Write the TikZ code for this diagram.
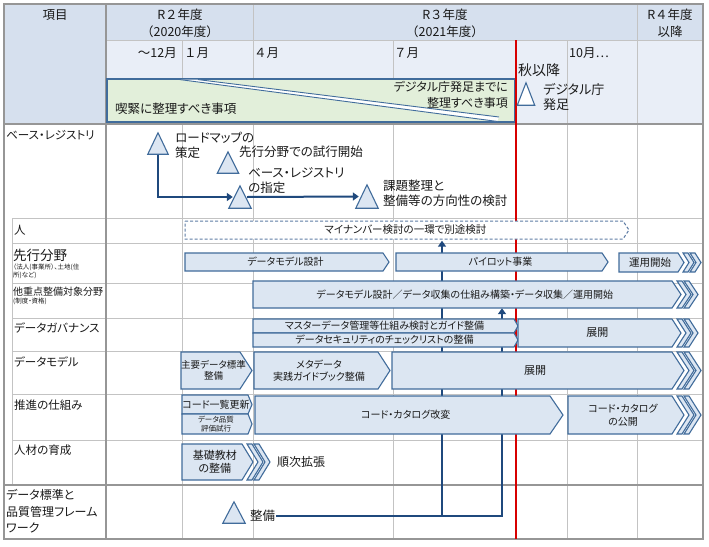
\documentclass[tikz,border=0pt]{standalone}
\usepackage{fontspec}
\setmainfont{Noto Sans CJK JP}[RawFeature=+palt]
\newfontfamily\jpf{Noto Sans CJK JP}
\usetikzlibrary{arrows.meta,calc}
\pgfdeclarelayer{bg}
\pgfdeclarelayer{conn}
\pgfsetlayers{bg,conn,main}
\definecolor{hdrA}{RGB}{214,224,238}
\definecolor{hdrB}{RGB}{233,238,247}
\definecolor{shpF}{RGB}{220,230,242}
\definecolor{shpD}{RGB}{65,108,155}
\definecolor{dshC}{RGB}{95,125,165}
\definecolor{connC}{RGB}{31,73,125}
\definecolor{gridC}{RGB}{195,195,195}
\definecolor{gridD}{RGB}{150,150,150}
\definecolor{grnF}{RGB}{226,239,218}
\definecolor{redL}{RGB}{215,0,0}
\definecolor{txtC}{RGB}{25,25,25}
\newcommand{\fz}[2]{\fontsize{#1pt}{#2pt}\selectfont}
\tikzset{
  shp/.style={draw=shpD, fill=shpF, line width=1.1pt, line join=miter},
  dsh/.style={dash pattern=on 3pt off 2pt, fill=white, draw=dshC, line width=1pt},
  box/.style={inner sep=0pt, align=center, text=txtC},
  lbl/.style={inner sep=0pt, align=left, text=txtC},
  cn/.style={draw=connC, line width=2pt},
  tip/.style={-{Triangle[length=6pt,width=8pt]}},
  gl/.style={draw=gridC, line width=0.9pt},
  gth/.style={draw=gridD, line width=1.6pt},
  tri/.style={draw=shpD, fill=shpF, line width=1.1pt, line join=miter},
}
% pentagon arrow: name, x0, body end, top, bottom, tip depth, shape style, font, text
\newcommand{\pent}[9]{%
  \draw[shp,#7] (#2,#4) -- (#3,#4) -- ({#3+#6},{(#4+#5)/2}) -- (#3,#5) -- (#2,#5) -- cycle;
  \node[box,font=#8,minimum width={#3-#2},minimum height={#5-#4}] (#1) at ({(#2+#3+#6/2)/2},{(#4+#5)/2}) {#9};}
% two trailing chevrons: body end, top, bottom, depth
\newcommand{\trip}[4]{%
  \foreach \g in {12,5}{%
    \draw[shp] ({#1+\g},#2) -- ({#1+\g+5},#2) -- ({#1+\g+5+#4},{(#2+#3)/2}) -- ({#1+\g+5},#3) -- ({#1+\g},#3) -- ({#1+\g+#4},{(#2+#3)/2}) -- cycle;}}
% milestone triangle: name, apex x, apex y, base y, half width, style
\newcommand{\mtri}[6]{%
  \node[inner sep=0pt,minimum width={2*#5},minimum height={#4-#3}] (#1) at (#2,{(#3+#4)/2}) {};
  \draw[tri,#6] (#1.south west) -- (#1.north) -- (#1.south east) -- cycle;}
\begin{document}
\begin{tikzpicture}[x=1pt,y=-1pt]
\useasboundingbox (0,0) rectangle (709,546);
\begin{pgfonlayer}{bg}
  \fill[white] (0,0) rectangle (709,546);
  \fill[hdrA] (4,4) rectangle (106,124);
  \fill[hdrA] (106,4) rectangle (703,40);
  \fill[hdrB] (106,40) rectangle (703,124);
  % thin grid
  \draw[gl] (106,40) -- (703,40);
  \foreach \x in {182,393} {\draw[gl] (\x,40) -- (\x,79);}
  \draw[gl] (567,40) -- (567,124);
  \foreach \x in {182,393,567} {\draw[gl] (\x,124) -- (\x,539);}
  \foreach \x in {253,637} {\draw[gl] (\x,4) -- (\x,539);}
  \foreach \y in {218,243,283,318,351,394,440} {\draw[gl] (12,\y) -- (703,\y);}
  \draw[gl] (12,218) -- (12,485);
  \draw[gth] (4,485) -- (703,485);
  % thick frame
  \draw[gth] (4,4) rectangle (703,539);
  \draw[gth] (106,4) -- (106,539);
  \draw[gth] (4,124) -- (703,124);
  % autumn line
  \draw[redL, line width=1.1pt] (516,40) -- (516,539);
\end{pgfonlayer}

% header texts
\node[box,font=\jpf\fz{12.5}{16}] (hitem) at (55,15) {項目};
\node[box,font=\jpf\fz{12.5}{17}] (hr2) at (180,23.5) {R２年度\\（2020年度）};
\node[box,font=\jpf\fz{12.5}{17}] (hr3) at (445,23.5) {R３年度\\（2021年度）};
\node[box,font=\jpf\fz{12.5}{17}] (hr4) at (670,23.5) {R４年度\\以降};
\node[lbl,font=\jpf\fz{12.5}{15},anchor=east] (m12) at (177,53) {～12月};
\node[lbl,font=\jpf\fz{12.5}{15},anchor=west] (m1) at (184,53) {１月};
\node[lbl,font=\jpf\fz{12.5}{15},anchor=west] (m4) at (254,53) {４月};
\node[lbl,font=\jpf\fz{12.5}{15},anchor=west] (m7) at (394,53) {７月};
\node[lbl,font=\jpf\fz{12.5}{15},anchor=west] (m10) at (569,53) {10月…};

% green box with diagonal split
\draw[fill=grnF, draw=shpD, line width=1.2pt] (107,79) rectangle (514.5,122);
\fill[white] (180,79.6) -- (198,79.6) -- (499,117) -- (497,121.4) -- cycle;
\draw[shpD, line width=0.9pt] (180,79.6) -- (497,121.4);
\draw[shpD, line width=0.9pt] (198,79.6) -- (499,117);
\node[lbl,font=\fz{12.5}{14},anchor=west] (urgent) at (115,109) {喫緊に整理すべき事項};
\node[lbl,font=\fz{12}{16},align=right,anchor=east] (bydig) at (508,94.5) {デジタル庁発足までに\\整理すべき事項};
\node[lbl,font=\fz{14}{16},anchor=west] (autumn) at (518,70) {秋以降};
\mtri{t5}{526}{83}{105}{8.5}{fill=white}
\node[lbl,font=\fz{13}{15},anchor=west] (digi) at (543,97.5) {デジタル庁\\発足};

% row labels
\node[lbl,font=\fz{11.5}{14},anchor=west] (rbase) at (6,135) {ベース・レジストリ};
\node[lbl,font=\fz{11.5}{14},anchor=west] (rhito) at (14,230) {人};
\node[lbl,font=\fz{13.5}{15},anchor=west] (rsen) at (13,255) {先行分野};
\node[lbl,font=\fz{6.5}{7.5},anchor=west] (rsen2) at (13,271.5) {（法人(事業所）、土地(住\\所)など)};
\node[lbl,font=\fz{10}{12},anchor=west] (roth) at (13,292) {他重点整備対象分野};
\node[lbl,font=\fz{6.5}{8},anchor=west] (roth2) at (13,301.5) {(制度・資格)};
\node[lbl,font=\fz{11.5}{14},anchor=west] (rgov) at (14,328) {データガバナンス};
\node[lbl,font=\fz{11.5}{14},anchor=west] (rdm) at (14,362) {データモデル};
\node[lbl,font=\fz{11.5}{14},anchor=west] (rpro) at (14,405) {推進の仕組み};
\node[lbl,font=\fz{11.5}{14},anchor=west] (rhr) at (14,450) {人材の育成};
\node[lbl,font=\fz{12}{16.5},anchor=west] (rstd) at (6,511.5) {データ標準と\\品質管理フレーム\\ワーク};

% base registry milestones
\mtri{t1}{158}{133}{154}{10}{}
\mtri{t2}{228}{152}{173}{10.5}{}
\mtri{t3}{240}{186}{208}{11}{}
\mtri{t4}{367}{185}{208}{11}{}
\node[lbl,font=\fz{12.5}{15},anchor=west] (l1) at (175,145.5) {ロードマップの\\策定};
\node[lbl,font=\fz{12.5}{15},anchor=west] (l2) at (239,152) {先行分野での試行開始};
\node[lbl,font=\fz{12.5}{15},anchor=west] (l3) at (248,180.5) {ベース・レジストリ\\の指定};
\node[lbl,font=\fz{12.5}{15},anchor=west] (l4) at (383,193) {課題整理と\\整備等の方向性の検討};

% bars
\pent{mynum}{185}{623}{221}{239}{6}{dsh}{\fz{10.5}{12}}{マイナンバー検討の一環で別途検討}
\pent{dmd}{185}{383}{253}{271}{6}{}{\fz{10}{12}}{データモデル設計}
\pent{pilot}{396}{602}{253}{271}{6}{}{\fz{10}{12}}{パイロット事業}
\trip{678}{253}{272}{6}
\pent{unyo}{619}{678}{253}{272}{6}{}{\fz{10.5}{12}}{運用開始}
\trip{672}{281}{308}{9}
\pent{oth}{253}{672}{281}{308}{9}{}{\fz{10}{12}}{データモデル設計／データ収集の仕組み構築・データ収集／運用開始}
\pent{gov1}{253}{514}{319}{333}{4}{}{\fz{10}{12}}{マスターデータ管理等仕組み検討とガイド整備}
\pent{gov2}{253}{514}{333}{347}{4}{}{\fz{10}{12}}{データセキュリティのチェックリストの整備}
\trip{672}{319}{347}{9}
\pent{gov3}{518}{672}{319}{347}{9}{}{\fz{11}{12}}{展開}
\pent{dm1}{181}{240}{352}{389}{12}{}{\fz{9.5}{11.5}}{主要データ標準\\整備}
\pent{dm2}{254}{378}{352}{389}{12}{}{\fz{10}{12}}{メタデータ\\実践ガイドブック整備}
\trip{672}{352}{389}{12}
\pent{dm3}{392}{672}{352}{389}{12}{}{\fz{11}{12}}{展開}
\pent{pr1}{182}{248}{395}{414}{4}{}{\fz{10}{12}}{コード一覧更新}
\pent{pr2}{182}{248}{414}{434}{4}{}{\fz{7.5}{9}}{データ品質\\評価試行}
\pent{pr3}{255}{550}{396}{434}{13}{}{\fz{10}{12}}{コード・カタログ改変}
\trip{672}{396}{434}{12}
\pent{pr4}{568}{672}{396}{434}{12}{}{\fz{10}{13}}{コード・カタログ\\の公開}
\trip{242}{444}{480}{11}
\pent{hr1}{182}{242}{444}{480}{11}{}{\fz{11}{12.5}}{基礎教材\\の整備}
\node[lbl,font=\fz{12}{14},anchor=west] (hrext) at (277,462) {順次拡張};

% framework milestone
\mtri{t6}{234}{502}{523}{11}{}
\node[lbl,font=\fz{12.5}{15},anchor=west,inner xsep=1pt] (seibi) at (249,516) {整備};

% connectors
\begin{pgfonlayer}{conn}
  \coordinate (jA) at (442,516);
  \coordinate (jB) at (502,516);
  \draw[cn,tip] (seibi.east) -| (jB |- oth.south);
  \draw[cn,tip,shorten >=1.5pt] (jA) -- (jA |- mynum.south);
  \draw[cn,tip] (t1.south) |- ($(t3.west)+(4,0)$);
  \draw[cn,tip] ($(t3.east)+(-4,0)$) -- ($(t4.west)+(3,0)$);
\end{pgfonlayer}
\end{tikzpicture}
\end{document}
